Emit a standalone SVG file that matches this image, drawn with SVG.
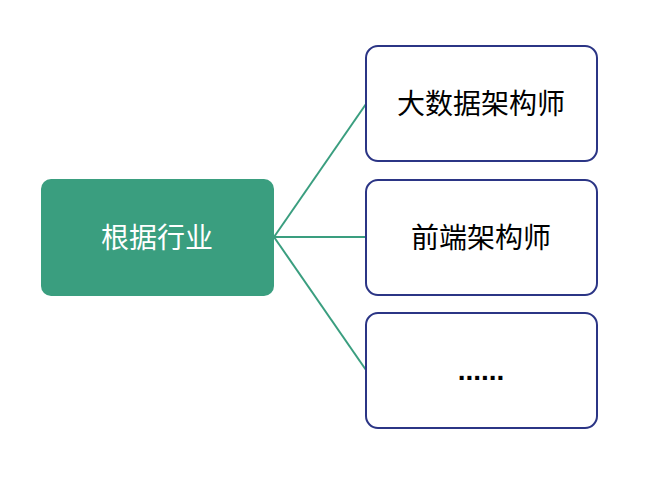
<svg xmlns="http://www.w3.org/2000/svg" width="651" height="500" viewBox="0 0 651 500">
<style>
.t{font-family:"Noto Sans CJK SC","Liberation Sans",sans-serif;font-size:28px;text-anchor:middle;dominant-baseline:central}
.rb{fill:#fff;stroke:#2b3585;stroke-width:2}
.c{stroke:#3a9e7f;stroke-width:2;fill:none}
</style>
<rect width="651" height="500" fill="#fff"/>
<g id="connectors">
<line class="c" x1="274" y1="237" x2="366" y2="104"/>
<line class="c" x1="274" y1="237" x2="366" y2="237"/>
<line class="c" x1="274" y1="237" x2="366" y2="370"/>
</g>
<g id="root">
<rect x="41" y="179" width="233" height="117" rx="10" fill="#3a9e7f"/>
<text class="t" x="157" y="236" fill="#fff">根据行业</text>
</g>
<g id="n1">
<rect class="rb" x="366" y="46" width="231" height="115" rx="12"/>
<text class="t" x="481" y="102" fill="#000">大数据架构师</text>
</g>
<g id="n2">
<rect class="rb" x="366" y="180" width="231" height="115" rx="12"/>
<text class="t" x="481" y="236" fill="#000">前端架构师</text>
</g>
<g id="n3">
<rect class="rb" x="366" y="313" width="231" height="115" rx="12"/>
<text x="481" y="380" fill="#000" font-family="Liberation Sans, sans-serif" font-size="28" font-weight="bold" text-anchor="middle">......</text>
</g>
</svg>
